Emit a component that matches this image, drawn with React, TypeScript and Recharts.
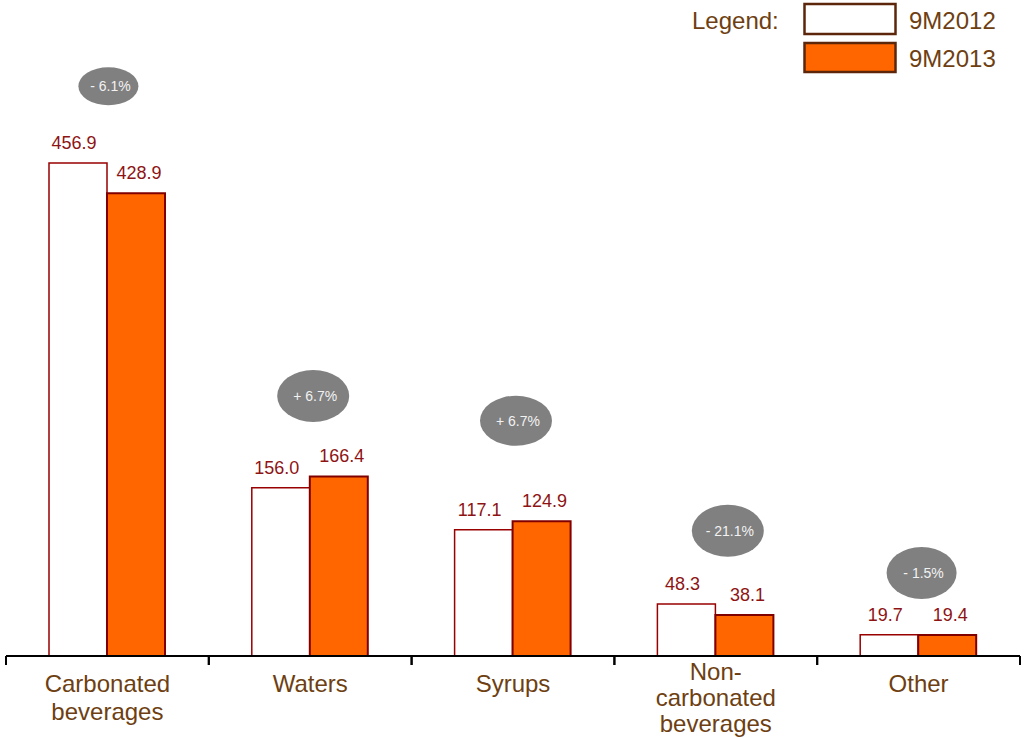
import React from 'react';
import { BarChart, Bar, XAxis, YAxis, LabelList, ReferenceDot } from 'recharts';

// Sales volume by segment, 9M2012 vs 9M2013
const categories = ['Carbonated beverages', 'Waters', 'Syrups', 'Non-carbonated beverages', 'Other'];
const tickLabels = [['Carbonated', 'beverages'], ['Waters'], ['Syrups'], ['Non-', 'carbonated', 'beverages'], ['Other']];
const values2012 = [456.9, 156.0, 117.1, 48.3, 19.7];
const values2013 = [428.9, 166.4, 124.9, 38.1, 19.4];
const changeLabels = ['- 6.1%', '+ 6.7%', '+ 6.7%', '- 21.1%', '- 1.5%'];
const seriesNames = ['9M2012', '9M2013'];

// Placement of the change badges: anchor height in value units, horizontal nudge and radii
const badgeLayout = [
  { y: 528, dx: 1, rx: 30, ry: 19 },
  { y: 241, dx: 3, rx: 36, ry: 26 },
  { y: 218, dx: 3, rx: 36, ry: 25 },
  { y: 116, dx: 12, rx: 36, ry: 26 },
  { y: 77, dx: 3, rx: 35, ry: 26 },
];

const W = 1025;
const H = 738;
const MARGIN = { top: 8.6, right: 5, left: 6, bottom: 0 };
const AXIS_H = 82;
const BAND = (W - MARGIN.left - MARGIN.right) / categories.length;
const FONT = '"Liberation Sans", Arial, sans-serif';
const BROWN = '#6E3F12';
const VALUE_RED = '#8E1414';

const data = categories.map((name, i) => ({ name, v2012: values2012[i], v2013: values2013[i] }));

const CategoryTick = (props: any) => {
  const { x, y, payload } = props;
  const idx = categories.indexOf(payload.value);
  const lines = tickLabels[idx] || [String(payload.value)];
  const half = BAND / 2;
  const first = lines.length > 2 ? 24 : 36;
  const step = lines.length > 2 ? 26 : 28;
  return (
    <g>
      <line x1={x - half} x2={x - half} y1={y} y2={y + 9} stroke="#000" strokeWidth={2} />
      <line x1={x + half} x2={x + half} y1={y} y2={y + 9} stroke="#000" strokeWidth={2} />
      <text textAnchor="middle" fill={BROWN} fontSize={24} fontFamily={FONT}>
        {lines.map((l, i) => (
          <tspan key={i} x={x} y={y + first + i * step}>{l}</tspan>
        ))}
      </text>
    </g>
  );
};

const valueLabel = (dx: number) => (props: any) => {
  const { x, y, width, value } = props;
  return (
    <text x={x + width / 2 + dx} y={y - 14} textAnchor="middle" fill={VALUE_RED} fontSize={18} fontFamily={FONT}>
      {Number(value).toFixed(1)}
    </text>
  );
};

const Badge = (props: any) => {
  const { cx, cy, i } = props;
  const b = badgeLayout[i];
  const x = cx + b.dx;
  return (
    <g>
      <ellipse cx={x} cy={cy} rx={b.rx} ry={b.ry} fill="#808080" />
      <text x={x + 2} y={cy + 5} textAnchor="middle" fill="#F2F2F2" fontSize={14} fontFamily={FONT}>
        {changeLabels[i]}
      </text>
    </g>
  );
};

const LegendBox = () => (
  <svg width={W} height={80} style={{ position: 'absolute', left: 0, top: 0 }}>
    <text x={692} y={29} fill={BROWN} fontSize={24} fontFamily={FONT}>Legend:</text>
    <rect x={804.5} y={4} width={91} height={30} fill="#FFFFFF" stroke="#5C260A" strokeWidth={2.5} />
    <rect x={804.5} y={43} width={91} height={29} fill="#FF6600" stroke="#5C260A" strokeWidth={2.5} />
    <text x={909} y={29} fill={BROWN} fontSize={24} fontFamily={FONT}>{seriesNames[0]}</text>
    <text x={909} y={67} fill={BROWN} fontSize={24} fontFamily={FONT}>{seriesNames[1]}</text>
  </svg>
);

export default function App() {
  return (
    <div style={{ position: 'absolute', left: 0, top: 0, width: W, height: H, background: '#fff' }}>
      <BarChart width={W} height={H} data={data} margin={MARGIN} barGap={0} style={{ fontFamily: FONT }}>
        <YAxis hide type="number" domain={[0, 600]} />
        <XAxis
          dataKey="name"
          height={AXIS_H}
          tickSize={0}
          tickMargin={0}
          tickLine={false}
          axisLine={{ stroke: '#000', strokeWidth: 2 }}
          tick={<CategoryTick />}
          interval={0}
        />
        <Bar dataKey="v2012" name={seriesNames[0]} fill="#FFFFFF" stroke="#990000" strokeWidth={1.5} barSize={58} isAnimationActive={false}>
          <LabelList dataKey="v2012" content={valueLabel(-4)} />
        </Bar>
        <Bar dataKey="v2013" name={seriesNames[1]} fill="#FF6600" stroke="#800000" strokeWidth={2} barSize={58} isAnimationActive={false}>
          <LabelList dataKey="v2013" content={valueLabel(3)} />
        </Bar>
        {categories.map((c, i) => (
          <ReferenceDot key={c} x={c} y={badgeLayout[i].y} r={0} ifOverflow="visible" shape={(p: any) => <Badge {...p} i={i} />} />
        ))}
      </BarChart>
      <LegendBox />
    </div>
  );
}
